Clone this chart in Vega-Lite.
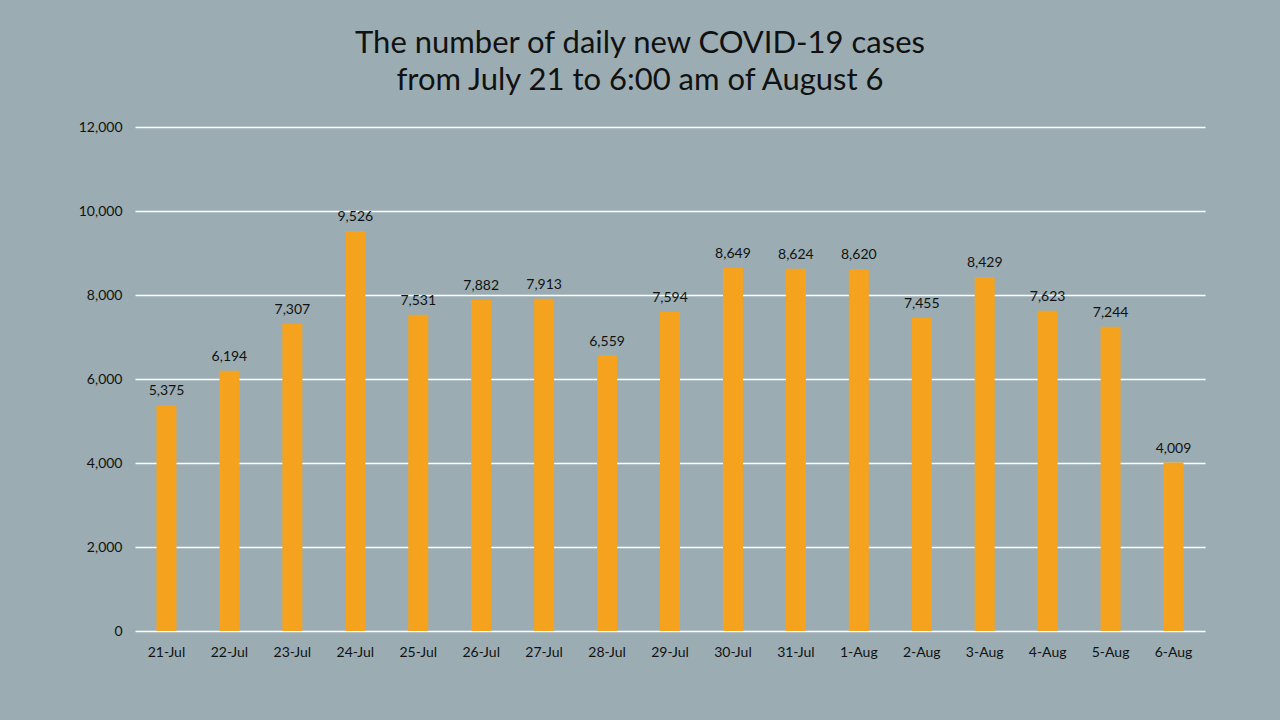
{
  "$schema": "https://vega.github.io/schema/vega-lite/v6.json",
  "width": 1070,
  "height": 504,
  "autosize": {"type": "none"},
  "padding": {"left": 135, "top": 127, "right": 75, "bottom": 89},
  "background": "#9badb3",
  "title": {
    "text": ["The number of daily new COVID-19 cases", "from July 21 to 6:00 am of August 6"],
    "font": "Lato",
    "fontSize": 31,
    "fontWeight": "normal",
    "color": "#111111",
    "lineHeight": 37,
    "anchor": "middle",
    "dx": -30,
    "offset": 23
  },
  "data": {
    "values": [
      {"date": "21-Jul", "cases": 5375},
      {"date": "22-Jul", "cases": 6194},
      {"date": "23-Jul", "cases": 7307},
      {"date": "24-Jul", "cases": 9526},
      {"date": "25-Jul", "cases": 7531},
      {"date": "26-Jul", "cases": 7882},
      {"date": "27-Jul", "cases": 7913},
      {"date": "28-Jul", "cases": 6559},
      {"date": "29-Jul", "cases": 7594},
      {"date": "30-Jul", "cases": 8649},
      {"date": "31-Jul", "cases": 8624},
      {"date": "1-Aug", "cases": 8620},
      {"date": "2-Aug", "cases": 7455},
      {"date": "3-Aug", "cases": 8429},
      {"date": "4-Aug", "cases": 7623},
      {"date": "5-Aug", "cases": 7244},
      {"date": "6-Aug", "cases": 4009}
    ]
  },
  "config": {
    "view": {"stroke": null},
    "font": "Lato"
  },
  "encoding": {
    "x": {
      "field": "date",
      "type": "nominal",
      "sort": null,
      "title": null,
      "axis": {
        "labelAngle": 0,
        "labelFont": "Lato",
        "labelFontSize": 14,
        "labelColor": "#111111",
        "labelPadding": 14,
        "ticks": false,
        "domain": false,
        "grid": false
      }
    },
    "y": {
      "field": "cases",
      "type": "quantitative",
      "title": null,
      "scale": {"domain": [0, 12000], "nice": false},
      "axis": {
        "values": [0, 2000, 4000, 6000, 8000, 10000, 12000],
        "format": ",.0f",
        "labelFont": "Lato",
        "labelFontSize": 14,
        "labelColor": "#111111",
        "labelPadding": 13,
        "ticks": false,
        "domain": false,
        "grid": true,
        "gridColor": "#ffffff",
        "gridWidth": 1.5,
        "gridOpacity": 1
      }
    }
  },
  "layer": [
    {
      "mark": {"type": "bar", "color": "#f5a31f", "size": 20}
    },
    {
      "mark": {"type": "text", "baseline": "bottom", "dy": -7, "fontSize": 14, "font": "Lato", "color": "#111111"},
      "encoding": {
        "text": {"field": "cases", "type": "quantitative", "format": ","}
      }
    }
  ]
}
